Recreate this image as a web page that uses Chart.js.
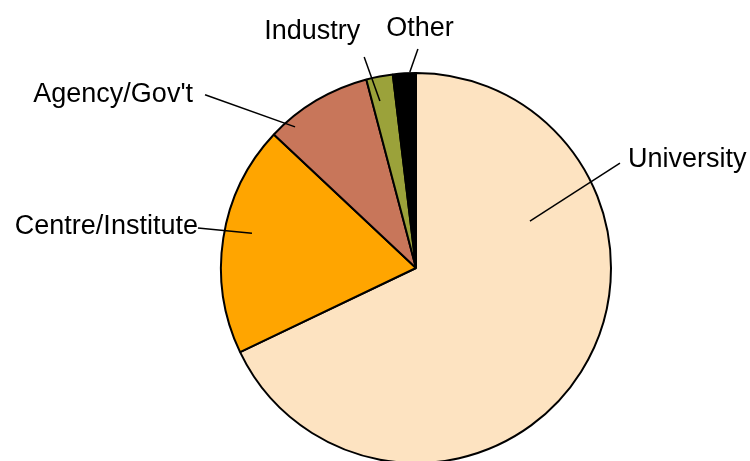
<!DOCTYPE html>
<html>
<head>
<meta charset="utf-8">
<script src="https://cdn.jsdelivr.net/npm/chart.js"></script>
<style>
  html, body { margin:0; padding:0; background:#fff; }
  #wrap { width:750px; height:461px; }
</style>
</head>
<body>
<div id="wrap"><canvas id="pie" width="750" height="461"></canvas></div>
<script>
// Data (percent of total)
const categories = ["University", "Centre/Institute", "Agency/Gov't", "Industry", "Other"];
const shares = [67.9, 19.1, 8.9, 2.2, 1.9];
const colours = ["#FDE3C1", "#FFA500", "#C8765A", "#9BA23A", "#000000"];

// Leader lines: angle (deg clockwise from top), inner/outer radius as fraction of pie radius,
// and text offset from the outer end
const leaders = [
    {a1:67.6,  r1:0.632, a2:62.8,  r2:1.176, dx:8,   dy:4,   align:'left'},
    {a1:282,   r1:0.86,  a2:280.4, r2:1.137, dx:0,   dy:6,   align:'right'},
    {a1:319.4, r1:0.953, a2:309.4, r2:1.40,  dx:-12, dy:7,   align:'right'},
    {a1:347.8, r1:0.876, a2:346.2, r2:1.114, dx:-4,  dy:-18, align:'right'},
    {a1:358.2, r1:1.005, a2:0.5,   r2:1.123, dx:2,   dy:-13, align:'center'}
];

function polar(cx, cy, r, deg){
    const t = deg*Math.PI/180;
    return [cx + r*Math.sin(t), cy - r*Math.cos(t)];
}

// Draw labels with leader lines
const labelPlugin = {
    id:'leaderLabels',
    afterDatasetsDraw(chart){
        const arc = chart.getDatasetMeta(0).data[0];
        if(!arc) return;
        const cx = arc.x, cy = arc.y, R = arc.outerRadius;
        const ctx = chart.ctx;
        ctx.save();
        ctx.strokeStyle = '#000';
        ctx.lineWidth = 1.5;
        ctx.fillStyle = '#000';
        ctx.font = '27px "Liberation Sans", Arial, sans-serif';
        ctx.textBaseline = 'alphabetic';
        leaders.forEach((l,i)=>{
            const p1 = polar(cx, cy, R*l.r1, l.a1);
            const p2 = polar(cx, cy, R*l.r2, l.a2);
            ctx.beginPath();
            ctx.moveTo(p1[0], p1[1]);
            ctx.lineTo(p2[0], p2[1]);
            ctx.stroke();
            ctx.textAlign = l.align;
            ctx.fillText(categories[i], p2[0]+l.dx, p2[1]+l.dy);
        });
        ctx.restore();
    }
};

new Chart(document.getElementById('pie'), {
    type:'pie',
    data:{
        labels:categories,
        datasets:[{
            data:shares,
            backgroundColor:colours,
            borderColor:'#000',
            borderWidth:2,
            radius:195,
            clip:false
        }]
    },
    options:{
        responsive:false,
        animation:false,
        layout:{padding:{left:82, right:0, top:75, bottom:0}},
        plugins:{legend:{display:false}, tooltip:{enabled:false}}
    },
    plugins:[labelPlugin]
});
</script>
</body>
</html>
